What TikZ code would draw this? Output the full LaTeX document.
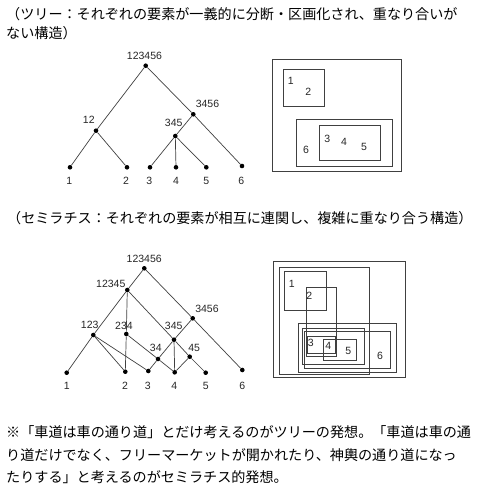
\documentclass[tikz,border=0pt]{standalone}
\usepackage{fontspec}
\setmainfont{Liberation Sans}
\newfontfamily\jpfont{Noto Sans CJK JP}
\begin{document}
\begin{tikzpicture}[x=1pt,y=-1pt]
\tikzstyle{vertex} = [circle, fill=black, inner sep=0pt, minimum size=4.6pt]
\tikzstyle{edge} = [draw=black!75, line width=0.7pt]
\tikzstyle{num} = [font=\fontsize{10.5}{12}\selectfont, inner sep=0pt, text=black!85]
\tikzstyle{area} = [draw=black!75, line width=0.8pt]
\tikzstyle{caption} = [font=\jpfont\fontsize{14.1}{16}\selectfont, anchor=base west, inner sep=0pt]

\useasboundingbox (0,0) rectangle (478,490);

% captions
\node[caption] (h1) at (6,19.3) {（ツリー：それぞれの要素が一義的に分断・区画化され、重なり合いが};
\node[caption] (h2) at (6,38.3) {ない構造）};
\node[caption] (c1) at (7,223) {（セミラチス：それぞれの要素が相互に連関し、複雑に重なり合う構造）};
\node[caption] (f1) at (6,437.3) {※「車道は車の通り道」とだけ考えるのがツリーの発想。「車道は車の通};
\node[caption] (f2) at (6,460.3) {り道だけでなく、フリーマーケットが開かれたり、神輿の通り道になっ};
\node[caption] (f3) at (6,482.3) {たりする」と考えるのがセミラチス的発想。};

% tree
\node[vertex] (t0) at (145.7,65.7) {};
\node[vertex] (t12) at (96,130.7) {};
\node[vertex] (t3456) at (193.3,114.3) {};
\node[vertex] (t345) at (175.3,136) {};
\node[vertex] (t1) at (70,167.3) {};
\node[vertex] (t2) at (127,167.3) {};
\node[vertex] (t3) at (150,167.3) {};
\node[vertex] (t4) at (176,167.3) {};
\node[vertex] (t5) at (206.3,167.3) {};
\node[vertex] (t6) at (242,166) {};

\node[num] (nt0) at (144.5,56.3) {123456};
\node[num] (nt12) at (88.8,120.3) {12};
\node[num] (nt3456) at (207.5,104.2) {3456};
\node[num] (nt345) at (173.7,123) {345};
\node[num] (nt1) at (69.3,180.5) {1};
\node[num] (nt2) at (126,180.5) {2};
\node[num] (nt3) at (149.3,180.5) {3};
\node[num] (nt4) at (176,180.5) {4};
\node[num] (nt5) at (206.3,180.5) {5};
\node[num] (nt6) at (241.3,180.5) {6};

\draw[edge] (t0) to (t12);
\draw[edge] (t0) to (t3456);
\draw[edge] (t12) to (t1);
\draw[edge] (t12) to (t2);
\draw[edge] (t3456) to (t345);
\draw[edge] (t3456) to (t6);
\draw[edge] (t345) to (t3);
\draw[edge] (t345) to (t4);
\draw[edge] (t345) to (t5);

% tree as areas
\draw[area] (272.7,59) rectangle (401.7,171.7);
\draw[area] (283.3,69.3) rectangle (324.3,106.7);
\draw[area] (296.7,119.3) rectangle (392.3,166);
\draw[area] (319.3,125.3) rectangle (380,160.3);
\node[num] (at1) at (290.7,80.7) {1};
\node[num] (at2) at (308.3,91.7) {2};
\node[num] (at3) at (327.3,139) {3};
\node[num] (at4) at (344,142.3) {4};
\node[num] (at5) at (364,146.7) {5};
\node[num] (at6) at (306,150.3) {6};

% semilattice
\node[vertex] (s0) at (144.3,268.3) {};
\node[vertex] (s12345) at (127.3,290) {};
\node[vertex] (s123) at (93.3,335) {};
\node[vertex] (s234) at (126.3,334) {};
\node[vertex] (s3456) at (192.7,318.3) {};
\node[vertex] (s345) at (174,339.7) {};
\node[vertex] (s34) at (158,359) {};
\node[vertex] (s45) at (189.7,356.7) {};
\node[vertex] (s1) at (66.7,372.7) {};
\node[vertex] (s2) at (125.3,371.7) {};
\node[vertex] (s3) at (148.3,371) {};
\node[vertex] (s4) at (174.7,372.3) {};
\node[vertex] (s5) at (205.7,372.7) {};
\node[vertex] (s6) at (242.3,370) {};

\node[num] (ns0) at (144.2,258.7) {123456};
\node[num] (ns12345) at (110.8,284.2) {12345};
\node[num] (ns123) at (89.7,324.7) {123};
\node[num] (ns234) at (124,326.3) {234};
\node[num] (ns3456) at (207,308.8) {3456};
\node[num] (ns345) at (173.7,325.8) {345};
\node[num] (ns34) at (155.8,348) {34};
\node[num] (ns45) at (194.2,348) {45};
\node[num] (ns1) at (66.7,386.3) {1};
\node[num] (ns2) at (125,386.3) {2};
\node[num] (ns3) at (147.7,386.3) {3};
\node[num] (ns4) at (174.3,386.3) {4};
\node[num] (ns5) at (205.7,386.3) {5};
\node[num] (ns6) at (242.3,386.3) {6};

\draw[edge] (s0) to (s12345);
\draw[edge] (s0) to (s3456);
\draw[edge] (s3456) to (s6);
\draw[edge] (s3456) to (s345);
\draw[edge] (s12345) to (s123);
\draw[edge] (s12345) to (s234);
\draw[edge] (s12345) to (s345);
\draw[edge] (s123) to (s1);
\draw[edge] (s123) to (s2);
\draw[edge] (s123) to (s3);
\draw[edge] (s234) to (s2);
\draw[edge] (s234) to (s34);
\draw[edge] (s345) to (s34);
\draw[edge] (s345) to (s4);
\draw[edge] (s345) to (s45);
\draw[edge] (s34) to (s3);
\draw[edge] (s34) to (s4);
\draw[edge] (s45) to (s4);
\draw[edge] (s45) to (s5);

% semilattice as areas
\draw[area] (273.3,261.7) rectangle (405,377.5);
\draw[area] (279,267.5) rectangle (369.3,374.2);
\draw[area] (284,271.7) rectangle (326,310);
\draw[area] (306,287.3) rectangle (336.7,356);
\draw[area] (298.3,323.3) rectangle (396,372.7);
\draw[area] (302.7,328.3) rectangle (364,364);
\draw[area] (304,331.7) rectangle (390,368.3);
\draw[area] (307.3,336) rectangle (335,353.3);
\draw[area] (323.3,339.3) rectangle (356.7,360.7);
\node[num] (as1) at (291.7,284.3) {1};
\node[num] (as2) at (309.3,295.7) {2};
\node[num] (as3) at (310.7,342.7) {3};
\node[num] (as4) at (328.3,346) {4};
\node[num] (as5) at (348.3,350.7) {5};
\node[num] (as6) at (380,356) {6};
\end{tikzpicture}
\end{document}
